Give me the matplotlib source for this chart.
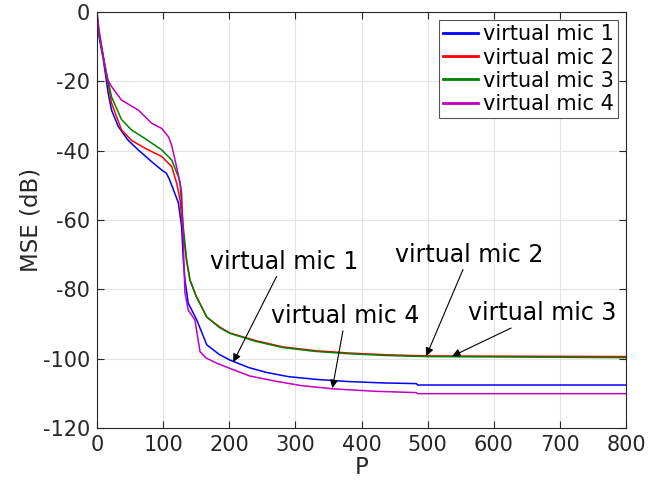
import numpy as np
import matplotlib
matplotlib.use('Agg')
import matplotlib.pyplot as plt

# MSE curves (P, dB)
P_mic1 = [0, 3, 9.6, 17, 22, 32, 47, 62.5, 82.7, 98, 105, 110, 115, 123, 128, 130.5, 133, 138,
          150.8, 166, 185, 201, 230, 257, 290, 333, 380, 433, 483, 485, 800]
mse_mic1 = [-2, -7, -13.8, -23.5, -28.3, -33, -37, -39.8, -43.2, -45.6, -46.5, -48.5, -51, -55, -62,
            -71.5, -77.3, -84, -88.8, -96, -98.8, -100.4, -102.6, -104, -105.2, -106, -106.6, -107,
            -107.2, -107.6, -107.6]

P_mic2 = [0, 3, 9.6, 17, 22, 37, 52, 72.6, 98, 113, 120.5, 125.5, 130.5, 135.6, 140.6, 150, 166,
          185, 201, 240, 281, 330, 383, 440, 499, 800]
mse_mic2 = [-1, -6, -13, -21, -26.3, -34, -37, -39.3, -41.7, -44.6, -49.4, -54, -64, -72, -77.3, -82,
            -88, -90.8, -92.6, -94.8, -96.6, -97.7, -98.4, -98.9, -99.2, -99.4]

P_mic3 = [0, 3, 9.6, 17, 22, 37, 52, 72.6, 98, 113, 123, 125.5, 130.5, 135.6, 140.6, 150, 166,
          185, 201, 240, 281, 330, 383, 440, 499, 800]
mse_mic3 = [-1, -6, -13, -20, -24.5, -31, -34, -36.5, -39.8, -42.7, -47.5, -49, -62, -71.5, -77.3,
            -82, -88, -91, -92.7, -95, -96.8, -97.9, -98.6, -99.1, -99.4, -99.7]

P_mic4 = [0, 3, 9.6, 14.6, 22, 37, 62.5, 82.7, 98, 108, 113, 118, 123, 126.8, 128, 130.5, 133, 138,
          148, 155.8, 165, 181, 201, 231, 270, 310, 357, 420, 483, 485, 800]
mse_mic4 = [0, -5, -13, -19, -21.5, -25.4, -28.3, -32.1, -33.6, -36, -38.5, -42.7, -47, -50.6, -52.3,
            -66.7, -81, -86, -88.8, -98, -99.8, -101.3, -102.8, -105, -106.5, -107.8, -108.7, -109.4,
            -109.8, -110.1, -110.1]

labels = ['virtual mic 1', 'virtual mic 2', 'virtual mic 3', 'virtual mic 4']
colors = ['b', 'r', 'g', 'm']

axcol = '#262626'
plt.rcParams['font.family'] = 'DejaVu Sans'
plt.rcParams['axes.unicode_minus'] = False

fig = plt.figure(figsize=(6.67, 4.84), dpi=100)
ax = fig.add_axes([97/667, 1 - 428/484, (626 - 97)/667, (428 - 12)/484])

curves = [(P_mic1, mse_mic1), (P_mic2, mse_mic2), (P_mic3, mse_mic3), (P_mic4, mse_mic4)]
for (p, v), lab, c in zip(curves, labels, colors):
    ax.plot(p, v, color=c, lw=1.1, label=lab)

ax.set_xlim(0, 800)
ax.set_ylim(-120, 0)
ax.set_xticks(np.arange(0, 801, 100))
ax.set_yticks(np.arange(-120, 1, 20))
ax.grid(True, color='#e3e3e3', lw=0.8)
ax.set_axisbelow(True)
ax.tick_params(direction='in', top=True, right=True, labelsize=15, colors=axcol,
               length=5, width=0.8, pad=5)
for s in ax.spines.values():
    s.set_color(axcol)
    s.set_linewidth(0.8)
ax.set_xlabel('P', fontsize=16.5, color=axcol, labelpad=1)
ax.set_ylabel('MSE (dB)', fontsize=16.5, color=axcol, labelpad=0)

leg = ax.legend(loc='upper right', fontsize=15, handlelength=1.7, handletextpad=0.2,
                labelspacing=0.15, borderpad=0.2, borderaxespad=0.4, fancybox=False,
                framealpha=1)
leg.get_frame().set_edgecolor('#555555')
leg.get_frame().set_linewidth(0.8)
for ln in leg.get_lines():
    ln.set_linewidth(2)

arrow = dict(arrowstyle='-|>', color='k', lw=0.8, mutation_scale=12, shrinkA=0, shrinkB=0)
ax.annotate('virtual mic 1', xy=(206, -101), xytext=(283, -72), fontsize=17,
            ha='center', va='center', arrowprops=arrow)
ax.annotate('virtual mic 4', xy=(356, -108.5), xytext=(376, -87.7), fontsize=17,
            ha='center', va='center', arrowprops=arrow)
ax.annotate('virtual mic 2', xy=(498, -99.2), xytext=(563, -70), fontsize=17,
            ha='center', va='center', arrowprops=arrow)
ax.annotate('virtual mic 3', xy=(537, -99.3), xytext=(673, -86.9), fontsize=17,
            ha='center', va='center', arrowprops=arrow)

fig.savefig('out.png', dpi=100)
